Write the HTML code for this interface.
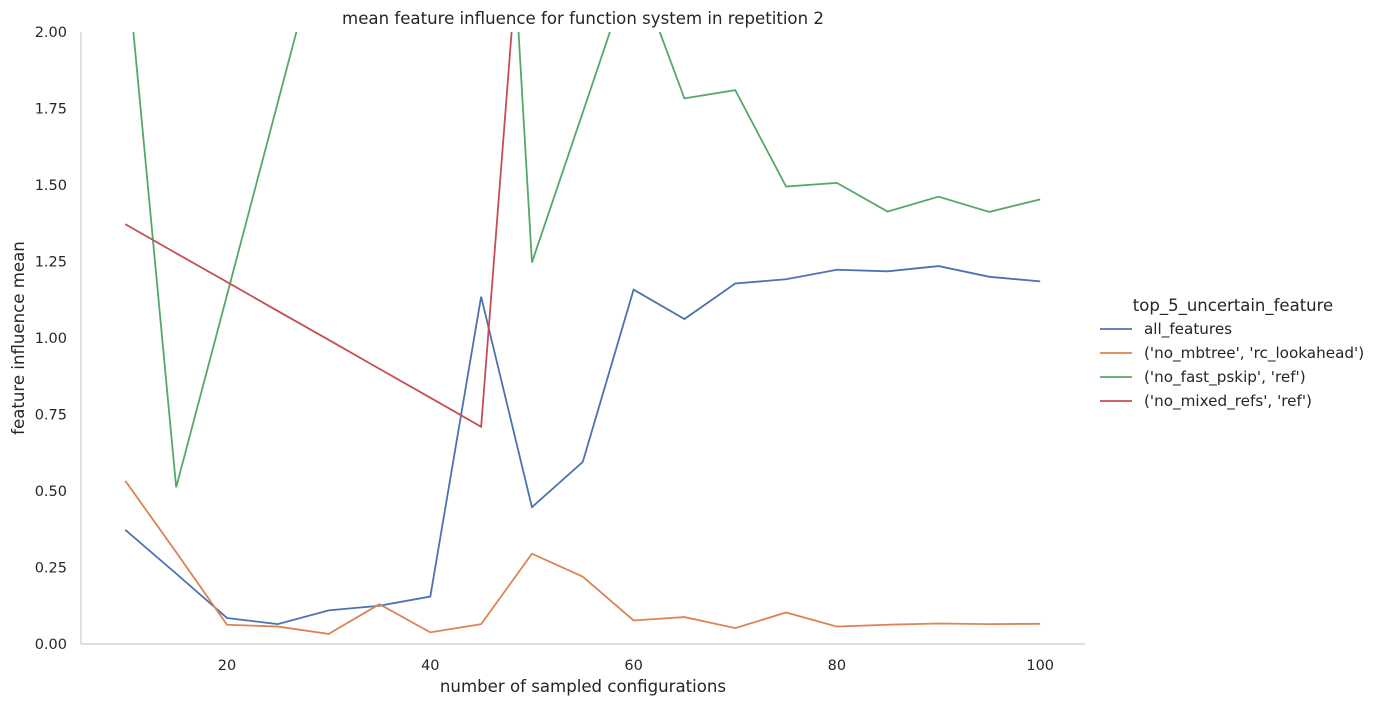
<!DOCTYPE html>
<html><head><meta charset="utf-8"><style>
body{margin:0;background:#fff;}
svg text{font-family:"DejaVu Sans","Liberation Sans",sans-serif;fill:#262626;}
</style></head><body>
<svg width="1379" height="706" viewBox="0 0 1379 706" id="chart">
<defs><clipPath id="clip"><rect x="81" y="32" width="1004" height="612"/></clipPath></defs>
<text x="583" y="24" text-anchor="middle" font-size="16.6">mean feature influence for function system in repetition 2</text>
<line x1="81" y1="32" x2="81" y2="644" stroke="#cccccc" stroke-width="1.2"/>
<line x1="81" y1="644" x2="1085" y2="644" stroke="#cccccc" stroke-width="1.2"/>
<g id="xticks"></g><g id="yticks"></g>
<g id="series" clip-path="url(#clip)"></g>
<text x="583" y="692" text-anchor="middle" font-size="16.6">number of sampled configurations</text>
<text transform="translate(24,338) rotate(-90)" text-anchor="middle" font-size="16.6">feature influence mean</text>
<g id="legend">
<text x="1233" y="311" text-anchor="middle" font-size="16.5">top_5_uncertain_feature</text>
</g>
</svg>
<script>
const xValues=[10,15,20,25,30,35,40,45,50,55,60,65,70,75,80,85,90,95,100];
const allFeatures=[0.373,0.23,0.085,0.065,0.11,0.125,0.155,1.135,0.447,0.595,1.158,1.062,1.178,1.192,1.223,1.218,1.235,1.200,1.185];
const mbtreeLookahead=[0.533,0.3,0.063,0.057,0.033,0.13,0.038,0.065,0.295,0.22,0.077,0.088,0.052,0.103,0.057,0.063,0.067,0.065,0.066];
const fastPskipRef=[2.28,0.512,1.14,1.77,2.4,3.5,4.0,4.1,1.247,1.737,2.23,1.783,1.81,1.495,1.507,1.413,1.462,1.412,1.453];
const mixedRefsRef=[1.372,1.277,1.183,1.088,0.994,0.899,0.805,0.71,2.86];
const xTicks=[20,40,60,80,100];
const yTicks=[0,0.25,0.5,0.75,1.0,1.25,1.5,1.75,2.0];
const seriesNames=["all_features","('no_mbtree', 'rc_lookahead')","('no_fast_pskip', 'ref')","('no_mixed_refs', 'ref')"];
const colors=["#4c72b0","#dd8452","#55a868","#c44e52"];
const NS="http://www.w3.org/2000/svg";
const sx=v=>227+(v-20)*10.165;
const sy=v=>644-v*306;
const xt=document.getElementById('xticks');
xTicks.forEach(t=>{const e=document.createElementNS(NS,'text');e.setAttribute('x',sx(t));e.setAttribute('y',670);e.setAttribute('text-anchor','middle');e.setAttribute('font-size','14.5');e.textContent=t;


xt.appendChild(e);});
const yt=document.getElementById('yticks');
yTicks.forEach(t=>{const e=document.createElementNS(NS,'text');e.setAttribute('x',67);e.setAttribute('y',sy(t)+5);e.setAttribute('text-anchor','end');e.setAttribute('font-size','14.5');e.textContent=t.toFixed(2);


yt.appendChild(e);});
const sg=document.getElementById('series');
[allFeatures,mbtreeLookahead,fastPskipRef,mixedRefsRef].forEach((vals,i)=>{
const p=document.createElementNS(NS,'polyline');
p.setAttribute('points',vals.map((v,j)=>sx(xValues[j])+','+sy(v)).join(' '));
p.setAttribute('fill','none');p.setAttribute('stroke',colors[i]);p.setAttribute('stroke-width','1.8');


sg.appendChild(p);
});
const lg=document.getElementById('legend');
seriesNames.forEach((n,i)=>{const y=329+i*24;
const l=document.createElementNS(NS,'line');l.setAttribute('x1',1100);l.setAttribute('x2',1132);l.setAttribute('y1',y);l.setAttribute('y2',y);l.setAttribute('stroke',colors[i]);l.setAttribute('stroke-width','1.8');


lg.appendChild(l);
const t=document.createElementNS(NS,'text');t.setAttribute('x',1144);t.setAttribute('y',y+5);t.setAttribute('font-size','15.2');t.textContent=n;


lg.appendChild(t);});
</script>
</body></html>
